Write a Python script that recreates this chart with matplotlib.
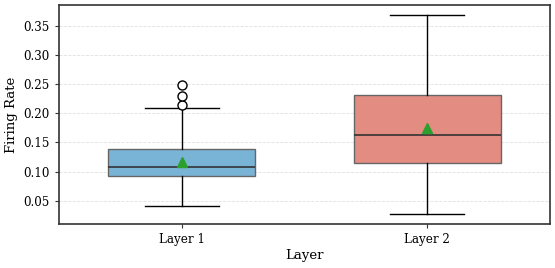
import matplotlib
matplotlib.use("Agg")
import matplotlib.pyplot as plt

plt.rcParams['font.family'] = ['DejaVu Serif']

categories = ["Layer 1", "Layer 2"]
whislo = [0.041, 0.027]
q1 = [0.093, 0.114]
med = [0.108, 0.163]
q3 = [0.138, 0.232]
whishi = [0.209, 0.369]
means = [0.117, 0.175]
fliers = [[0.2135, 0.229, 0.248], []]
colors = ["#79b3d6", "#e38c81"]

fig = plt.figure(figsize=(5.55, 2.68), dpi=100)
ax = fig.add_axes([59/555, 1-224/268, 491/555, 219/268])

stats = []
for i, c in enumerate(categories):
    stats.append(dict(label=c, whislo=whislo[i], q1=q1[i], med=med[i], q3=q3[i],
                      whishi=whishi[i], mean=means[i], fliers=fliers[i]))

bp = ax.bxp(stats, positions=range(len(categories)), widths=0.6, capwidths=0.3,
            patch_artist=True, showmeans=True,
            boxprops=dict(edgecolor="#666666", linewidth=1.0),
            medianprops=dict(color="#333333", linewidth=1.2),
            whiskerprops=dict(color="black", linewidth=1.0),
            capprops=dict(color="black", linewidth=1.0),
            flierprops=dict(marker="o", markerfacecolor="white", markeredgecolor="black",
                            markersize=6.5, markeredgewidth=1.0),
            meanprops=dict(marker="^", markerfacecolor="#2ca02c", markeredgecolor="#2ca02c",
                           markersize=7))
for patch, col in zip(bp["boxes"], colors):
    patch.set_facecolor(col)

ax.set_xlim(-0.5, 1.5)
ax.set_ylim(0.010, 0.3855)
ax.set_yticks([0.05, 0.10, 0.15, 0.20, 0.25, 0.30, 0.35])
ax.set_yticklabels(["0.05", "0.10", "0.15", "0.20", "0.25", "0.30", "0.35"])
ax.yaxis.grid(True, linestyle="--", color="#e0e0e0", linewidth=0.6)
ax.set_axisbelow(True)
for s in ax.spines.values():
    s.set_color("#333333")
    s.set_linewidth(1.2)
ax.tick_params(labelsize=8.6, colors="#333333", labelcolor="black", length=3)
ax.set_xlabel("Layer", fontsize=9.5, labelpad=2)
ax.set_ylabel("Firing Rate", fontsize=9.5)

fig.savefig("out.png", dpi=100)
